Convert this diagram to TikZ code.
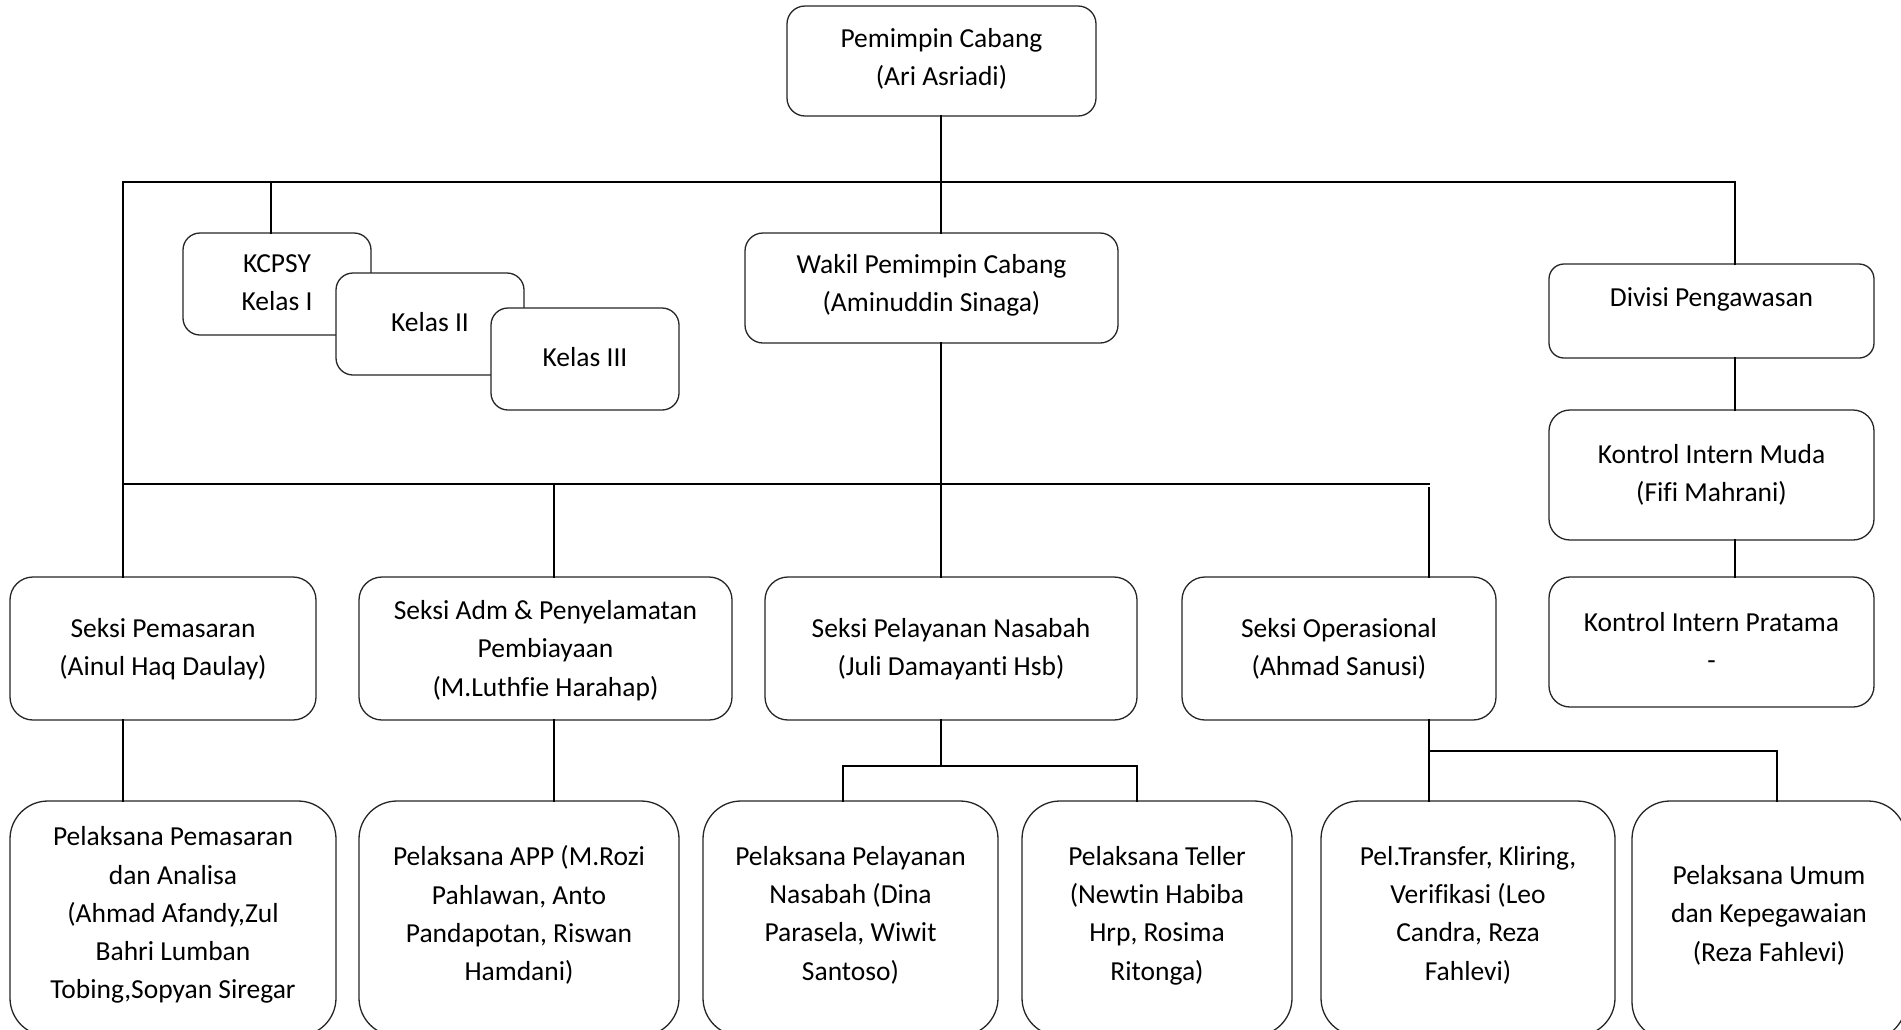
\documentclass[tikz,border=0pt]{standalone}
\usepackage{fontspec}
\setmainfont{Carlito}[Ligatures=NoCommon]
\tikzset{
  box/.style={draw=black!85, line width=1.3pt, fill=white, inner sep=0pt, outer sep=0pt},
  txt/.style={align=center, font=\fontsize{27.5}{38.3}\selectfont, inner sep=0pt,
    execute at begin node=\strut, execute at end node=\strut},
  conn/.style={line width=2pt, black, line cap=rect}
}
% #1 name, #2 left, #3 top, #4 right, #5 bottom, #6 radius, #7 text raise, #8 text
\newcommand\obox[8]{%
  \node[box, rounded corners=#6, minimum width=#4-#2, minimum height=#5-#3] (#1) at ({(#2+#4)/2},{(#3+#5)/2}) {};
  \node[txt] (#1t) at ([yshift=#7]#1.center) {#8};
}
\begin{document}
\begin{tikzpicture}[x=1pt,y=-1pt]
\useasboundingbox (0,0) rectangle (1901,1029);
\fill[white] (0,0) rectangle (1901,1029);
\clip (0,0) rectangle (1901,1029);

% x and y positions of connector lines
\coordinate (xL) at (123,0);
\coordinate (xK) at (271,0);
\coordinate (xA) at (554,0);
\coordinate (xN1) at (843,0);
\coordinate (xT) at (941,0);
\coordinate (xN2) at (1137,0);
\coordinate (xO) at (1429,0);
\coordinate (xR) at (1735,0);
\coordinate (xU) at (1777,0);
\coordinate (yB1) at (0,182);
\coordinate (yB2) at (0,484);
\coordinate (yO) at (0,751);
\coordinate (yN) at (0,766);

% boxes
\obox{pc}{787}{6}{1096}{116}{18}{-1.5pt}{Pemimpin Cabang\\(Ari Asriadi)}
\obox{kc1}{183}{233}{371}{335}{17}{-4.5pt}{KCPSY\\Kelas I}
\obox{kc2}{336}{273}{524}{375}{17}{0.5pt}{Kelas II}
\obox{kc3}{491}{308}{679}{410}{17}{0pt}{Kelas III}
\obox{wk}{745}{233}{1118}{343}{18}{-1pt}{Wakil Pemimpin Cabang\\(Aminuddin Sinaga)}
\obox{dv}{1549}{264}{1874}{358}{15}{12pt}{Divisi Pengawasan}
\obox{km}{1549}{410}{1874}{540}{21}{-4pt}{Kontrol Intern Muda\\(Fifi Mahrani)}
\obox{kp}{1549}{577}{1874}{707}{21}{-5pt}{Kontrol Intern Pratama\\-}
\obox{sp}{10}{577}{316}{720}{23}{-4pt}{Seksi Pemasaran\\(Ainul Haq Daulay)}
\obox{sa}{359}{577}{732}{720}{23}{-5.5pt}{Seksi Adm \& Penyelamatan\\Pembiayaan\\(M.Luthfie Harahap)}
\obox{sn}{765}{577}{1137}{720}{23}{-4pt}{Seksi Pelayanan Nasabah\\(Juli Damayanti Hsb)}
\obox{so}{1182}{577}{1496}{720}{23}{-4pt}{Seksi Operasional\\(Ahmad Sanusi)}
\obox{pp}{10}{801}{336}{1036}{38}{0pt}{Pelaksana Pemasaran\\dan Analisa\\(Ahmad Afandy,Zul\\Bahri Lumban\\Tobing,Sopyan Siregar}
\obox{pa}{359}{801}{679}{1036}{38}{-0.5pt}{Pelaksana APP (M.Rozi\\Pahlawan, Anto\\Pandapotan, Riswan\\Hamdani)}
\obox{pn}{703}{801}{998}{1036}{38}{-0.5pt}{Pelaksana Pelayanan\\Nasabah (Dina\\Parasela, Wiwit\\Santoso)}
\obox{pt}{1022}{801}{1292}{1036}{38}{-0.5pt}{Pelaksana Teller\\(Newtin Habiba\\Hrp, Rosima\\Ritonga)}
\obox{pf}{1321}{801}{1615}{1036}{38}{-0.5pt}{Pel.Transfer, Kliring,\\Verifikasi (Leo\\Candra, Reza\\Fahlevi)}
\obox{pu}{1632}{801}{1906}{1040}{38}{1.5pt}{Pelaksana Umum\\dan Kepegawaian\\(Reza Fahlevi)}

% connectors
\draw[conn] (xT |- pc.south) -- (xT |- wk.north);
\draw[conn] (xT |- wk.south) -- (xT |- sn.north);
\draw[conn] (xL |- sp.north) -- (xL |- yB1) -- (xR |- yB1) -- (xR |- dv.north);
\draw[conn] (xK |- yB1) -- (xK |- kc1.north);
\draw[conn] (xL |- yB2) -- (xO |- yB2);
\draw[conn] (xA |- yB2) -- (xA |- sa.north);
\draw[conn] ([yshift=-4pt]xO |- yB2) -- (xO |- so.north);
\draw[conn] (xL |- sp.south) -- (xL |- pp.north);
\draw[conn] (xA |- sa.south) -- (xA |- pa.north);
\draw[conn] (xT |- sn.south) -- (xT |- yN);
\draw[conn] (xN1 |- pn.north) -- (xN1 |- yN) -- (xN2 |- yN) -- (xN2 |- pt.north);
\draw[conn] (xO |- so.south) -- (xO |- pf.north);
\draw[conn] (xO |- yO) -- (xU |- yO) -- (xU |- pu.north);
\draw[conn] (xR |- dv.south) -- (xR |- km.north);
\draw[conn] (xR |- km.south) -- (xR |- kp.north);
\end{tikzpicture}
\end{document}
